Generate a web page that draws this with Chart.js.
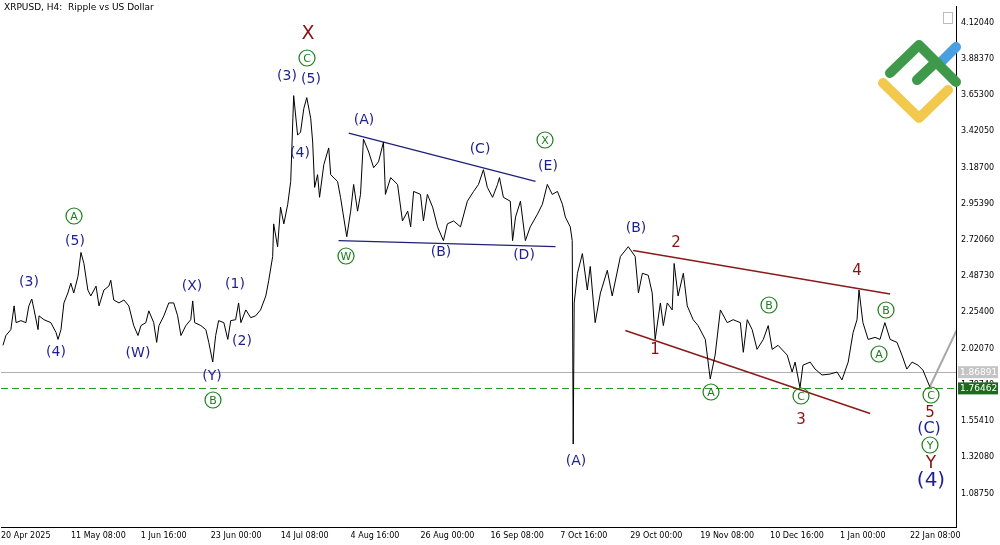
<!DOCTYPE html>
<html>
<head>
<meta charset="utf-8">
<script src="https://cdn.jsdelivr.net/npm/chart.js@4/dist/chart.umd.min.js"></script>
<style>
  html, body { margin: 0; padding: 0; background: #fff; }
  #wrap { width: 1000px; height: 545px; }
</style>
</head>
<body>
<div id="wrap"><canvas id="chart" width="1000" height="545"></canvas></div>
<script>
// days since 20 Apr 2025 00:00
const priceDays = [0.6,1.5,3.0,4.0,4.6,6.1,7.6,8.5,9.4,10.1,11.3,11.6,13.1,15.2,16.8,17.4,18.3,19.2,20.4,21.3,22.2,23.5,24.4,25.3,26.5,27.4,29.0,29.9,31.4,32.9,33.5,34.4,36.0,37.5,39.0,40.5,41.8,42.7,44.2,45.1,46.6,47.5,48.2,49.7,51.2,52.7,53.9,54.9,56.4,57.9,58.5,59.1,61.0,62.5,63.4,64.6,65.5,66.4,68.0,69.2,70.1,71.6,72.5,73.2,74.7,76.2,77.7,79.2,80.8,81.7,82.9,83.2,84.4,85.3,86.3,87.5,88.4,89.3,90.5,91.4,92.4,93.3,94.5,95.1,95.7,96.6,97.2,98.5,100.0,100.6,102.7,103.6,105.5,106.7,107.6,108.8,109.7,110.6,112.2,113.7,115.2,116.7,117.3,118.9,121.0,122.5,124.1,125.0,125.9,128.0,128.9,130.1,131.7,133.2,135.0,136.2,138.1,140.2,142.3,144.2,145.7,147.2,148.4,150.0,151.5,152.1,153.3,155.4,156.1,157.0,158.5,160.0,161.5,163.7,165.2,166.7,168.2,169.8,171.3,172.2,173.7,174.3,174.6,174.9,175.9,177.4,178.9,179.8,181.3,182.9,185.0,186.5,189.0,191.4,193.5,194.5,195.7,197.5,198.7,199.6,201.2,202.1,203.3,204.8,205.4,206.6,208.2,209.4,211.2,212.7,214.9,216.4,217.9,219.5,221.6,223.4,225.6,226.5,227.7,229.2,230.7,232.6,234.1,235.3,237.1,239.9,241.4,242.3,243.8,244.7,246.9,248.4,250.5,253.0,255.1,256.6,258.5,260.0,261.2,261.8,263.0,264.6,266.7,268.2,269.7,271.3,273.4,274.9,276.4,278.0,279.8,281.3,283.4];
const priceValues = [2.042,2.105,2.143,2.296,2.188,2.201,2.188,2.296,2.340,2.270,2.143,2.232,2.207,2.188,2.124,2.080,2.143,2.315,2.379,2.442,2.379,2.487,2.640,2.569,2.398,2.360,2.423,2.296,2.398,2.423,2.461,2.334,2.315,2.334,2.296,2.169,2.105,2.169,2.188,2.264,2.188,2.061,2.169,2.232,2.315,2.315,2.232,2.105,2.169,2.207,2.328,2.188,2.169,2.143,2.061,1.934,2.105,2.201,2.188,2.080,2.201,2.207,2.315,2.188,2.270,2.220,2.232,2.270,2.360,2.461,2.614,2.824,2.677,2.932,2.824,2.951,3.097,3.650,3.396,3.415,3.567,3.637,3.504,3.351,3.059,3.141,2.995,3.205,3.313,3.141,3.097,2.995,2.741,2.906,3.078,2.906,3.014,3.370,3.287,3.186,3.224,3.351,3.014,3.122,3.078,2.843,2.906,2.805,3.033,3.014,2.843,3.014,2.932,2.805,2.716,2.824,2.843,2.805,2.970,3.033,3.078,3.173,3.059,2.995,3.078,3.122,2.995,2.970,2.716,2.868,2.970,2.716,2.805,2.887,2.951,3.078,3.014,3.033,2.951,2.868,2.805,2.716,1.406,2.315,2.506,2.633,2.398,2.550,2.188,2.379,2.525,2.360,2.614,2.677,2.614,2.379,2.506,2.493,2.379,2.080,2.315,2.169,2.315,2.270,2.569,2.360,2.506,2.296,2.207,2.169,2.080,1.826,1.979,2.270,2.188,2.207,2.188,1.997,2.207,2.143,2.016,2.080,2.169,2.016,2.042,1.979,1.870,1.934,1.768,1.914,1.934,1.889,1.851,1.857,1.870,1.819,1.934,2.124,2.207,2.398,2.188,2.080,2.093,2.080,2.188,2.080,2.061,1.979,1.889,1.934,1.914,1.883,1.775];

const projDays = [283.4, 291.7];
const projValues = [1.775, 2.143];

const blueUpper = [[106.1, 3.408], [163.1, 3.097]];
const blueLower = [[103.0, 2.716], [169.2, 2.677]];
const redUpper = [[192.9, 2.652], [271.3, 2.372]];
const redLower = [[190.5, 2.137], [265.2, 1.603]];

const bidPrice = 1.86891;
const levelPrice = 1.76462;

const yTicks = [1.08750,1.32080,1.55410,1.78740,2.02070,2.25400,2.48730,2.72060,2.95390,3.18700,3.42050,3.65300,3.88370,4.12040];
const xTickDays = [0,21.333,42.667,64,85.333,106.667,128,149.333,170.667,192,213.333,234.667,256,277.333];
const xTickLabels = ['20 Apr 2025','11 May 08:00','1 Jun 16:00','23 Jun 00:00','14 Jul 08:00','4 Aug 16:00','26 Aug 00:00','16 Sep 08:00','7 Oct 16:00','29 Oct 00:00','19 Nov 08:00','10 Dec 16:00','1 Jan 00:00','22 Jan 08:00'];

const NAVY = '#1f1f8f', GREEN = '#1b7d1b', RED = '#8b1010';
// [text, x, y, colour, size, circled]
const waveLabels = [
  ['X',308,33,RED,19,false],['C',307,58,GREEN,13,true],['(3)',287,75,NAVY,14],['(5)',311,78,NAVY,14],['(4)',300,152,NAVY,14],
  ['(A)',364,119,NAVY,14],['(C)',480,148,NAVY,14],['X',545,140,GREEN,13,true],['(E)',548,165,NAVY,14],
  ['W',346,256,GREEN,13,true],['(B)',441,251,NAVY,14],['(D)',524,254,NAVY,14],
  ['(B)',636,227,NAVY,14],['2',676,242,RED,15],['4',857,270,RED,15],
  ['B',769,305,GREEN,13,true],['B',886,310,GREEN,13,true],['A',879,354,GREEN,13,true],
  ['1',655,349,RED,15],['A',711,392,GREEN,13,true],['C',801,396,GREEN,13,true],['3',801,419,RED,15],
  ['(A)',576,460,NAVY,14],
  ['C',931,395,GREEN,13,true],['5',930,412,RED,15],['(C)',929,428,NAVY,16],['Y',930,445,GREEN,13,true],['Y',931,463,RED,17],['(4)',931,480,NAVY,20],
  ['A',74,216,GREEN,13,true],['(5)',75,240,NAVY,14],['(3)',29,281,NAVY,14],['(4)',56,351,NAVY,14],['(W)',138,352,NAVY,14],
  ['(X)',192,285,NAVY,14],['(1)',235,283,NAVY,14],['(2)',242,340,NAVY,14],['(Y)',212,375,NAVY,14],['B',213,400,GREEN,13,true]
];

function pts(days, vals) { return days.map((d, i) => ({x: d, y: vals[i]})); }
function seg(pair) { return pair.map(p => ({x: p[0], y: p[1]})); }

function stroke(ctx, color, path) {
  ctx.strokeStyle = color;
  ctx.beginPath();
  path.forEach((p, i) => i ? ctx.lineTo(p[0], p[1]) : ctx.moveTo(p[0], p[1]));
  ctx.stroke();
}

const overlay = {
  id: 'overlay',
  beforeDatasetsDraw(chart) {
    const {ctx, chartArea: a, scales: {y}} = chart;
    ctx.save();
    ctx.strokeStyle = '#b0b0b0'; ctx.lineWidth = 1;
    let py = Math.round(y.getPixelForValue(bidPrice)) + 0.5;
    ctx.beginPath(); ctx.moveTo(a.left, py); ctx.lineTo(a.right, py); ctx.stroke();
    ctx.strokeStyle = '#2a9a2a'; ctx.setLineDash([7, 4]);
    py = Math.round(y.getPixelForValue(levelPrice)) + 0.5;
    ctx.beginPath(); ctx.moveTo(a.left, py); ctx.lineTo(a.right, py); ctx.stroke();
    ctx.restore();
  },
  afterDraw(chart) {
    const {ctx, chartArea: a, scales: {y}} = chart;
    ctx.save();
    ctx.textAlign = 'center'; ctx.textBaseline = 'middle';
    waveLabels.forEach(([t, x, yy, c, s, circ]) => {
      ctx.fillStyle = c;
      ctx.font = s + 'px "DejaVu Sans"';
      if (circ) {
        ctx.strokeStyle = c; ctx.lineWidth = 1.2;
        ctx.beginPath(); ctx.arc(x, yy, 8, 0, Math.PI * 2); ctx.stroke();
        ctx.font = '11px "DejaVu Sans"';
      }
      ctx.fillText(t, x, yy + 1);
    });
    [[bidPrice, '#c4c4c4'], [levelPrice, '#1c6b1c']].forEach(([v, bg]) => {
      const py = y.getPixelForValue(v);
      ctx.fillStyle = bg; ctx.fillRect(a.right + 2, py - 6, 40, 12);
      ctx.fillStyle = '#fff'; ctx.font = '9px "DejaVu Sans"'; ctx.textAlign = 'left';
      ctx.fillText(v.toFixed(5), a.right + 4, py);
    });
    ctx.fillStyle = '#000'; ctx.font = '9px "DejaVu Sans"'; ctx.textAlign = 'left';
    ctx.fillText('XRPUSD, H4:  Ripple vs US Dollar', 4, 8);
    ctx.strokeStyle = '#bbb'; ctx.lineWidth = 1; ctx.strokeRect(943.5, 12.5, 9, 11);
    // logo
    ctx.lineCap = 'round'; ctx.lineJoin = 'round'; ctx.lineWidth = 10;
    stroke(ctx, '#f2c94c', [[883, 83], [919, 118], [948, 90]]);
    stroke(ctx, '#4a9fe0', [[940, 63], [956, 47]]);
    stroke(ctx, '#3e9a4a', [[890, 73], [919, 45], [956, 82]]);
    stroke(ctx, '#3e9a4a', [[917, 80], [936, 62]]);
    ctx.restore();
  }
};

const lineDs = (data, color, width) => ({
  data, borderColor: color, borderWidth: width, pointRadius: 0, fill: false, tension: 0
});

new Chart(document.getElementById('chart'), {
  type: 'line',
  data: {
    datasets: [
      lineDs(pts(priceDays, priceValues), '#000', 1),
      lineDs(pts(projDays, projValues), '#a8a8a8', 2),
      lineDs(seg(blueUpper), '#1f1f7a', 1.3),
      lineDs(seg(blueLower), '#1f1f7a', 1.3),
      lineDs(seg(redUpper), '#8b1a1a', 1.5),
      lineDs(seg(redLower), '#8b1a1a', 1.5)
    ]
  },
  options: {
    responsive: false, animation: false,
    layout: {padding: 0},
    plugins: {legend: {display: false}, tooltip: {enabled: false}},
    scales: {
      x: {
        type: 'linear', min: 0, max: 291.4,
        grid: {display: false, drawTicks: true, tickLength: 3, tickColor: '#000'},
        border: {color: '#000'},
        afterBuildTicks: s => { s.ticks = xTickDays.map(v => ({value: v})); },
        afterFit: s => { s.height = 18; },
        ticks: {
          autoSkip: false, maxRotation: 0, align: 'start', padding: 1, color: '#000',
          font: {family: 'DejaVu Sans', size: 8},
          callback: (v, i) => xTickLabels[i]
        }
      },
      y: {
        position: 'right', min: 0.872, max: 4.222,
        grid: {display: false, drawTicks: true, tickLength: 3, tickColor: '#000'},
        border: {color: '#000'},
        afterBuildTicks: s => { s.ticks = yTicks.map(v => ({value: v})); },
        afterFit: s => { s.width = 44; },
        ticks: {
          padding: 2, color: '#000', font: {family: 'DejaVu Sans', size: 8},
          callback: v => v.toFixed(5)
        }
      }
    }
  },
  plugins: [overlay]
});
</script>
</body>
</html>
